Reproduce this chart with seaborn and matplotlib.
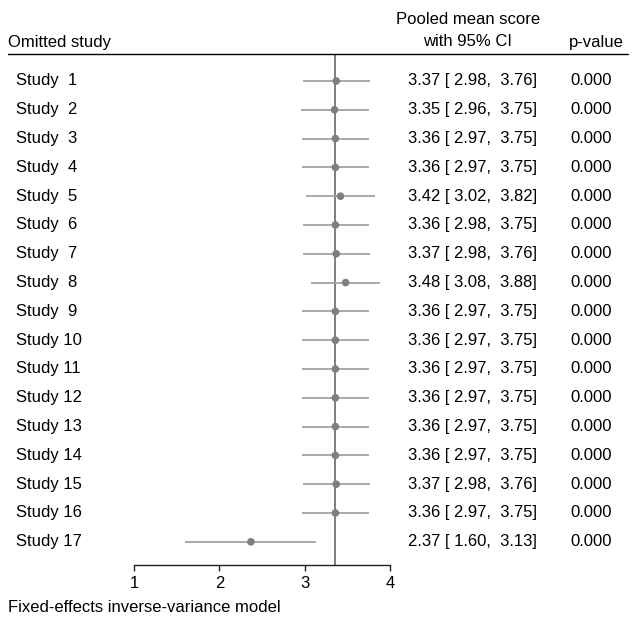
import numpy as np
import pandas as pd
import matplotlib
matplotlib.use("Agg")
import matplotlib.pyplot as plt
import matplotlib.transforms as mtransforms
from matplotlib.lines import Line2D
import seaborn as sns

studies = [f"Study {i:>2}" for i in range(1, 18)]
estimate = [3.37, 3.35, 3.36, 3.36, 3.42, 3.36, 3.37, 3.48, 3.36,
            3.36, 3.36, 3.36, 3.36, 3.36, 3.37, 3.36, 2.37]
ci_low = [2.98, 2.96, 2.97, 2.97, 3.02, 2.98, 2.98, 3.08, 2.97,
          2.97, 2.97, 2.97, 2.97, 2.97, 2.98, 2.97, 1.60]
ci_high = [3.76, 3.75, 3.75, 3.75, 3.82, 3.75, 3.76, 3.88, 3.75,
           3.75, 3.75, 3.75, 3.75, 3.75, 3.76, 3.75, 3.13]
p_values = [0.0] * 17
overall = 3.36
x_ticks = [1, 2, 3, 4]

df = pd.DataFrame({"study": studies, "est": estimate, "lo": ci_low,
                   "hi": ci_high, "p": p_values})
df["row"] = np.arange(1, len(df) + 1)

sns.set_style("white")
plt.rcParams["font.family"] = ["Liberation Sans", "DejaVu Sans"]
plt.rcParams["text.color"] = "black"
plt.rcParams["xtick.color"] = "black"
plt.rcParams["xtick.labelcolor"] = "black"
FS = 12

W, H = 634, 622
fig = plt.figure(figsize=(W / 100, H / 100), dpi=100)
ax = fig.add_axes([134 / W, 1 - 565 / H, 256 / W, 511 / H])

# CI lines and point estimates
ax.hlines(df["row"], df["lo"], df["hi"], color="#a3a3a3", lw=1.3, zorder=2)
sns.scatterplot(data=df, x="est", y="row", ax=ax, color="#7f7f7f",
                s=30, edgecolor="none", zorder=3, legend=False)
ax.axvline(overall, color="#6a6a6a", lw=1.2, zorder=1)

ax.set_xlim(1, 4)
ax.set_ylim(17.806, 0.0625)
ax.set_xticks(x_ticks)
ax.set_xticklabels([str(t) for t in x_ticks], fontsize=FS, color="black")
ax.set_yticks([])
ax.set_xlabel("")
ax.set_ylabel("")
for s in ["left", "right", "top"]:
    ax.spines[s].set_visible(False)
ax.spines["bottom"].set_color("#222222")
ax.spines["bottom"].set_linewidth(1.0)
ax.tick_params(axis="x", direction="out", length=4.5, width=1.0,
               color="#222222", pad=3.5, bottom=True)

# row texts: x in figure pixels, y in data rows
tr = mtransforms.blended_transform_factory(fig.transFigure, ax.transData)
for _, r in df.iterrows():
    ax.text(16 / W, r["row"], r["study"], transform=tr, fontsize=FS,
            ha="left", va="center")
    ax.text(408 / W, r["row"], f"{r['est']:.2f} [{r['lo']:5.2f}, {r['hi']:5.2f}]",
            transform=tr, fontsize=FS, ha="left", va="center")
    ax.text(570 / W, r["row"], f"{r['p']:.3f}", transform=tr, fontsize=FS,
            ha="left", va="center")

# header
fig.text(8 / W, 1 - 42 / H, "Omitted study", fontsize=FS, ha="left", va="center")
fig.text(468 / W, 1 - 19 / H, "Pooled mean score", fontsize=FS, ha="center", va="center")
fig.text(468 / W, 1 - 42 / H, "with 95% CI", fontsize=FS, ha="center", va="center")
fig.text(624 / W, 1 - 42 / H, "p-value", fontsize=FS, ha="right", va="center")
fig.add_artist(Line2D([8 / W, 628 / W], [1 - 54 / H, 1 - 54 / H],
                      color="black", lw=1.0))

# footer
fig.text(8 / W, 1 - 607 / H, "Fixed-effects inverse-variance model",
         fontsize=FS, ha="left", va="center")

fig.savefig("out.png", dpi=100)
